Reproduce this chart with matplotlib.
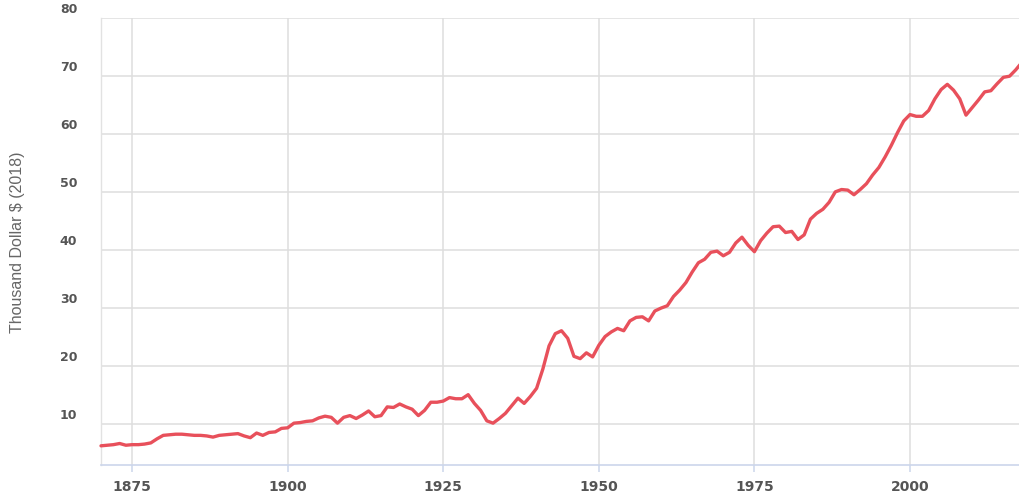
import matplotlib
matplotlib.use("Agg")
import matplotlib.pyplot as plt
import matplotlib.transforms as mtransforms

years = list(range(1870, 2019))
gdp_per_capita = [
    6.3, 6.4, 6.5, 6.7, 6.4, 6.5, 6.5, 6.6, 6.8, 7.5,   # 1870-1879
    8.1, 8.2, 8.3, 8.3, 8.2, 8.1, 8.1, 8.0, 7.8, 8.1,   # 1880-1889
    8.2, 8.3, 8.4, 8.0, 7.7, 8.5, 8.1, 8.6, 8.7, 9.3,   # 1890-1899
    9.4, 10.2, 10.3, 10.5, 10.6, 11.1, 11.4, 11.2, 10.2, 11.2,   # 1900-1909
    11.5, 11.0, 11.6, 12.3, 11.3, 11.5, 13.0, 12.9, 13.5, 13.0,  # 1910-1919
    12.6, 11.5, 12.4, 13.8, 13.8, 14.0, 14.6, 14.4, 14.4, 15.1,  # 1920-1929
    13.6, 12.4, 10.6, 10.2, 11.0, 11.9, 13.2, 14.5, 13.6, 14.8,  # 1930-1939
    16.2, 19.5, 23.5, 25.6, 26.1, 24.8, 21.7, 21.3, 22.3, 21.6,  # 1940-1949
    23.6, 25.1, 25.9, 26.5, 26.1, 27.8, 28.4, 28.5, 27.8, 29.5,  # 1950-1959
    30.0, 30.4, 32.0, 33.1, 34.4, 36.2, 37.8, 38.4, 39.6, 39.8,  # 1960-1969
    39.0, 39.6, 41.2, 42.2, 40.8, 39.7, 41.6, 42.9, 44.0, 44.1,  # 1970-1979
    43.0, 43.2, 41.8, 42.6, 45.3, 46.3, 47.0, 48.2, 50.0, 50.4,  # 1980-1989
    50.3, 49.5, 50.4, 51.4, 52.9, 54.2, 56.0, 58.0, 60.2, 62.2,  # 1990-1999
    63.3, 63.0, 63.0, 64.0, 66.0, 67.6, 68.5, 67.5, 66.0, 63.2,  # 2000-2009
    64.5, 65.8, 67.2, 67.4, 68.6, 69.7, 69.9, 71.0, 72.3,        # 2010-2018
]
x_ticks = [1875, 1900, 1925, 1950, 1975, 2000]
y_ticks = [10, 20, 30, 40, 50, 60, 70, 80]
y_label = "Thousand Dollar $ (2018)"

fig = plt.figure(figsize=(10.2, 4.97), dpi=100)
ax = fig.add_axes([101 / 1020, 1 - 465 / 497, 921 / 1020, (465 - 17.5) / 497])

ax.plot(years, gdp_per_capita, color="#e8505b", lw=2.4,
        solid_joinstyle="round", solid_capstyle="round", zorder=3, clip_on=False)

ax.set_xlim(1870, 2018)
ax.set_ylim(3, 80)
ax.set_xticks(x_ticks)
ax.set_yticks(y_ticks)
ax.grid(True, color="#dedede", lw=1.1)
ax.set_axisbelow(True)

for s in ["top", "right"]:
    ax.spines[s].set_visible(False)
ax.spines["left"].set_color("#e2e2e2")
ax.spines["left"].set_linewidth(1.0)
ax.spines["bottom"].set_color("#ccd6eb")
ax.spines["bottom"].set_linewidth(1.2)

ax.tick_params(axis="x", length=5, width=1.1, color="#ccd6eb", pad=6,
               labelsize=10, labelcolor="#555555")
ax.tick_params(axis="y", length=0, pad=17, labelsize=9, labelcolor="#555555")
for lab in ax.get_yticklabels():
    lab.set_verticalalignment("bottom")
    lab.set_fontweight("semibold")
    lab.set_transform(lab.get_transform() +
                      mtransforms.ScaledTranslation(0, 2 / 100, fig.dpi_scale_trans))
for lab in ax.get_xticklabels():
    lab.set_fontweight("semibold")

fig.text(18 / 1020, 1 - 242 / 497, y_label, rotation=90, ha="center", va="center",
         fontsize=11.5, color="#666666",
         family=["Liberation Sans", "DejaVu Sans"])

fig.savefig("out.png", dpi=100, facecolor="white")
